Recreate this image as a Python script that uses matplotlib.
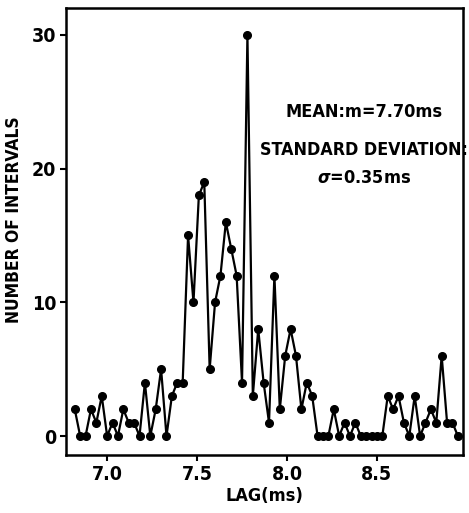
import numpy as np
from matplotlib import pyplot as plt

# lag bins (ms), 0.03 ms apart
lag_start = 6.82
lag_step = 0.03
counts = [2, 0, 0, 2, 1, 3, 0, 1, 0, 2, 1, 1, 0, 4, 0, 2, 5, 0, 3, 4,
          4, 15, 10, 18, 19, 5, 10, 12, 16, 14, 12, 4, 30, 3, 8, 4, 1, 12, 2, 6,
          8, 6, 2, 4, 3, 0, 0, 0, 2, 0, 1, 0, 1, 0, 0, 0, 0, 0, 3, 2,
          3, 1, 0, 3, 0, 1, 2, 1, 6, 1, 1, 0]
lags = lag_start + lag_step * np.arange(len(counts))

xticks = [7.0, 7.5, 8.0, 8.5]
xticklabels = ['7.0', '7.5', '8.0', '8.5']
yticks = [0, 10, 20, 30]

plt.rcParams['font.family'] = ['DejaVu Sans']
plt.rcParams['font.stretch'] = 'condensed'
plt.rcParams['font.weight'] = 'bold'
plt.rcParams['axes.labelweight'] = 'bold'

fig = plt.figure(figsize=(4.69, 5.13), dpi=100)
ax = fig.add_axes([0.141, 0.113, 0.846, 0.871])

ax.plot(lags, counts, 'k-', lw=1.6, marker='o', ms=5.5, mfc='k', mec='k')

ax.set_xlim(6.772, 8.978)
ax.set_ylim(-1.42, 32.0)
ax.set_xticks(xticks)
ax.set_xticklabels(xticklabels)
ax.set_yticks(yticks)
ax.tick_params(direction='out', length=4, width=1.5, labelsize=14, pad=3)
for s in ax.spines.values():
    s.set_linewidth(1.8)

ax.set_xlabel('LAG(ms)', fontsize=13, labelpad=2)
ax.set_ylabel('NUMBER OF INTERVALS', fontsize=12.5)
ax.yaxis.set_label_coords(-0.108, 0.526)

ax.text(0.75, 0.767, 'MEAN:m=7.70ms', transform=ax.transAxes,
        ha='center', va='center', fontsize=13)
ax.text(0.75, 0.682, 'STANDARD DEVIATION:', transform=ax.transAxes,
        ha='center', va='center', fontsize=12.8, clip_on=False)
ax.text(0.75, 0.62, r'$\sigma$=0.35ms', transform=ax.transAxes,
        ha='center', va='center', fontsize=13)

plt.savefig('out.png', dpi=100)
